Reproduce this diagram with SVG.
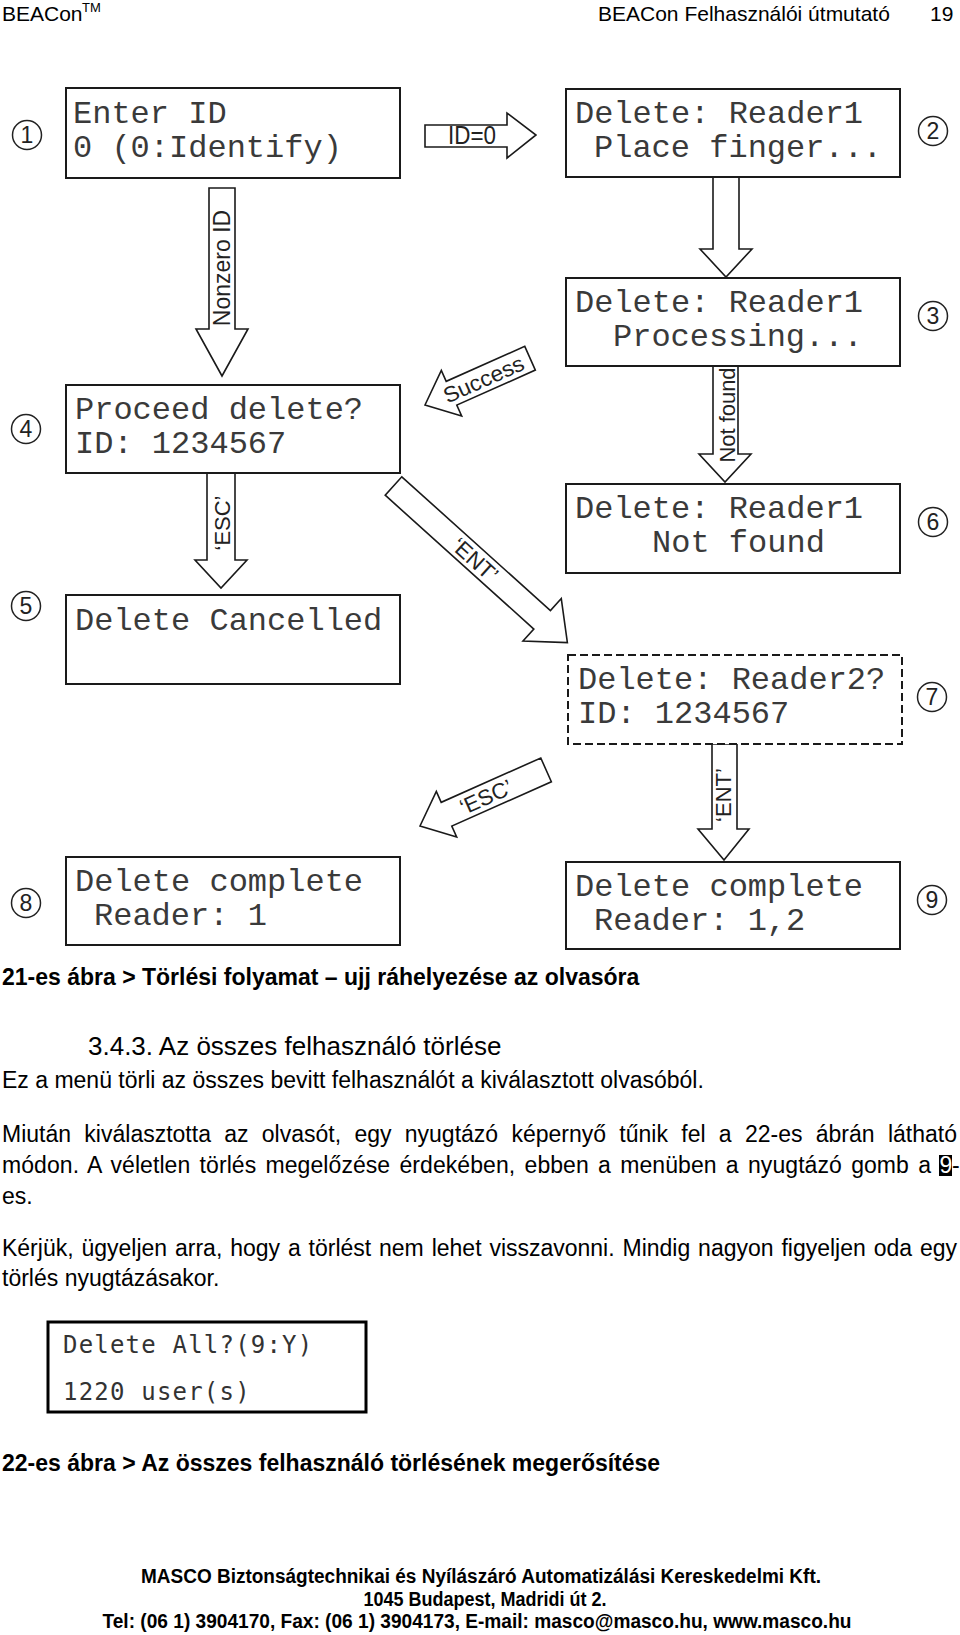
<svg xmlns="http://www.w3.org/2000/svg" width="960" height="1635" viewBox="0 0 960 1635">
<style>
.bg{fill:#fff}
.box{fill:#fff;stroke:#1a1a1a;stroke-width:2}
.dash{fill:#fff;stroke:#1a1a1a;stroke-width:2;stroke-dasharray:8 4}
.lcd{font-family:"Liberation Mono","DejaVu Sans Mono",monospace;font-size:32px;fill:#3a3a3a}
.arrow{fill:#fff;stroke:#1a1a1a;stroke-width:1.6;stroke-linejoin:miter}
.al{font-family:"Liberation Sans",Arial,sans-serif;font-size:22px;fill:#222}
.nc{fill:#fff;stroke:#222;stroke-width:1.5}
.nt{font-family:"Liberation Sans",Arial,sans-serif;font-size:23px;text-anchor:middle;fill:#222}
.t{font-family:"Liberation Sans",Arial,sans-serif;font-size:23px;fill:#000}
.b{font-weight:bold}
.hd{font-family:"Liberation Sans",Arial,sans-serif;font-size:21px;fill:#000}
.ft{font-family:"Liberation Sans",Arial,sans-serif;font-size:20px;font-weight:bold;fill:#000;text-anchor:middle}
.scr{fill:#fff;stroke:#000;stroke-width:3}
.st{font-family:"DejaVu Sans Mono",monospace;font-size:24px;letter-spacing:1.2px;fill:#333}
</style>
<rect class="bg" x="0" y="0" width="960" height="1635"/>

<g id="header">
<text class="hd" x="2" y="21">BEACon</text>
<text class="hd" x="82" y="12" style="font-size:13px">TM</text>
<text class="hd" x="598" y="21">BEACon Felhasználói útmutató</text>
<text class="hd" x="930" y="21">19</text>
</g>

<g id="connectors">
<g id="c-nonzero">
<path class="arrow" d="M209,188 L235,188 L235,329 L248,329 L222,376 L196,329 L209,329 Z"/>
<text class="al" transform="translate(230,268) rotate(-90)" text-anchor="middle" style="font-size:23px">Nonzero ID</text>
</g>
<g id="c-id0">
<path class="arrow" d="M425,125 L507,125 L507,113 L536,135 L507,158 L507,147 L425,147 Z"/>
<text class="al" x="448" y="144" style="font-size:26px" textLength="48" lengthAdjust="spacingAndGlyphs">ID=0</text>
</g>
<g id="c-2-3">
<path class="arrow" d="M713,177 L739,177 L739,249 L752,249 L726,277 L700,249 L713,249 Z"/>
</g>
<g id="c-notfound">
<path class="arrow" d="M713,366 L738,366 L738,454 L751,454 L725,482 L699,454 L713,454 Z"/>
<text class="al" transform="translate(735,415) rotate(-90)" text-anchor="middle" textLength="95" lengthAdjust="spacingAndGlyphs">Not found</text>
</g>
<g id="c-success" transform="translate(425,405) rotate(-24)">
<path class="arrow" d="M0,0 L29,-25 L29,-13 L115,-13 L115,13 L29,13 L29,25 Z"/>
<text class="al" x="64" y="8" text-anchor="middle" textLength="86" lengthAdjust="spacingAndGlyphs">Success</text>
</g>
<g id="c-esc1">
<path class="arrow" d="M207,473 L235,473 L235,560 L247,560 L221,588 L195,560 L207,560 Z"/>
<text class="al" transform="translate(230,523) rotate(-90)" text-anchor="middle">‘ESC’</text>
</g>
<g id="c-ent1" transform="translate(393.5,486) rotate(42)">
<path class="arrow" d="M0,-12.4 L200,-12.4 L200,-28.6 L234,0 L200,28.6 L200,12.4 L0,12.4 Z"/>
<text class="al" x="110" y="8" text-anchor="middle">‘ENT’</text>
</g>
<g id="c-esc2" transform="translate(420,826) rotate(-24)">
<path class="arrow" d="M0,0 L29,-25 L29,-13 L138,-13 L138,13 L29,13 L29,25 Z"/>
<text class="al" x="72" y="8" text-anchor="middle">‘ESC’</text>
</g>
<g id="c-ent2">
<path class="arrow" d="M712,744 L737,744 L737,829 L749,829 L724,860 L698,829 L712,829 Z"/>
<text class="al" transform="translate(731,795) rotate(-90)" text-anchor="middle">‘ENT’</text>
</g>
</g>

<g id="n1">
<rect class="box" x="66" y="88" width="334" height="90"/>
<text class="lcd" x="73" y="123">Enter ID</text>
<text class="lcd" x="73" y="157">0 (0:Identify)</text>
<circle class="nc" cx="27" cy="135" r="14.5"/><text class="nt" x="27" y="143">1</text>
</g>
<g id="n2">
<rect class="box" x="566" y="89" width="334" height="88"/>
<text class="lcd" x="575" y="123">Delete: Reader1</text>
<text class="lcd" x="594" y="157">Place finger...</text>
<circle class="nc" cx="933" cy="131" r="14.5"/><text class="nt" x="933" y="139">2</text>
</g>
<g id="n3">
<rect class="box" x="566" y="278" width="334" height="88"/>
<text class="lcd" x="575" y="312">Delete: Reader1</text>
<text class="lcd" x="613" y="346">Processing...</text>
<circle class="nc" cx="933" cy="316" r="14.5"/><text class="nt" x="933" y="324">3</text>
</g>
<g id="n4">
<rect class="box" x="66" y="385" width="334" height="88"/>
<text class="lcd" x="75" y="419">Proceed delete?</text>
<text class="lcd" x="75" y="453">ID: 1234567</text>
<circle class="nc" cx="26" cy="429" r="14.5"/><text class="nt" x="26" y="437">4</text>
</g>
<g id="n5">
<rect class="box" x="66" y="595" width="334" height="89"/>
<text class="lcd" x="75" y="630">Delete Cancelled</text>
<circle class="nc" cx="26" cy="606" r="14.5"/><text class="nt" x="26" y="614">5</text>
</g>
<g id="n6">
<rect class="box" x="566" y="484" width="334" height="89"/>
<text class="lcd" x="575" y="518">Delete: Reader1</text>
<text class="lcd" x="652" y="552">Not found</text>
<circle class="nc" cx="933" cy="522" r="14.5"/><text class="nt" x="933" y="530">6</text>
</g>
<g id="n7">
<rect class="dash" x="568" y="655" width="334" height="89"/>
<text class="lcd" x="578" y="689">Delete: Reader2?</text>
<text class="lcd" x="578" y="723">ID: 1234567</text>
<circle class="nc" cx="932" cy="697" r="14.5"/><text class="nt" x="932" y="705">7</text>
</g>
<g id="n8">
<rect class="box" x="66" y="857" width="334" height="88"/>
<text class="lcd" x="75" y="891">Delete complete</text>
<text class="lcd" x="94" y="925">Reader: 1</text>
<circle class="nc" cx="26" cy="903" r="14.5"/><text class="nt" x="26" y="911">8</text>
</g>
<g id="n9">
<rect class="box" x="566" y="862" width="334" height="87"/>
<text class="lcd" x="575" y="896">Delete complete</text>
<text class="lcd" x="594" y="930">Reader: 1,2</text>
<circle class="nc" cx="932" cy="900" r="14.5"/><text class="nt" x="932" y="908">9</text>
</g>

<g id="body">
<text class="t b" x="2" y="985">21-es ábra &gt; Törlési folyamat – ujj ráhelyezése az olvasóra</text>
<text class="t" x="88" y="1055" style="font-size:26px">3.4.3. Az összes felhasználó törlése</text>
<text class="t" x="2" y="1088">Ez a menü törli az összes bevitt felhasználót a kiválasztott olvasóból.</text>
<text class="t" x="2" y="1142" word-spacing="6.9" textLength="955">Miután kiválasztotta az olvasót, egy nyugtázó képernyő tűnik fel a 22-es ábrán látható</text>
<text class="t" x="2" y="1173" word-spacing="2.8" textLength="929">módon. A véletlen törlés megelőzése érdekében, ebben a menüben a nyugtázó gomb a</text>
<rect x="939" y="1155" width="13" height="21" fill="#000"/>
<text class="t" x="939.5" y="1173" style="fill:#fff">9</text>
<text class="t" x="952" y="1173">-</text>
<text class="t" x="2" y="1204">es.</text>
<text class="t" x="2" y="1256" word-spacing="1.5" textLength="955">Kérjük, ügyeljen arra, hogy a törlést nem lehet visszavonni. Mindig nagyon figyeljen oda egy</text>
<text class="t" x="2" y="1286">törlés nyugtázásakor.</text>
</g>

<g id="screen">
<rect class="scr" x="48" y="1322" width="318" height="90"/>
<text class="st" x="63" y="1353">Delete All?(9:Y)</text>
<text class="st" x="63" y="1400">1220 user(s)</text>
</g>

<g id="caption2">
<text class="t b" x="2" y="1471">22-es ábra &gt; Az összes felhasználó törlésének megerősítése</text>
</g>

<g id="footer">
<text class="ft" x="481" y="1583" textLength="680" lengthAdjust="spacingAndGlyphs">MASCO Biztonságtechnikai és Nyílászáró Automatizálási Kereskedelmi Kft.</text>
<text class="ft" x="485" y="1606" textLength="243" lengthAdjust="spacingAndGlyphs">1045 Budapest, Madridi út 2.</text>
<text class="ft" x="477" y="1628" textLength="749" lengthAdjust="spacingAndGlyphs">Tel: (06 1) 3904170, Fax: (06 1) 3904173, E-mail: masco@masco.hu, www.masco.hu</text>
</g>
</svg>
